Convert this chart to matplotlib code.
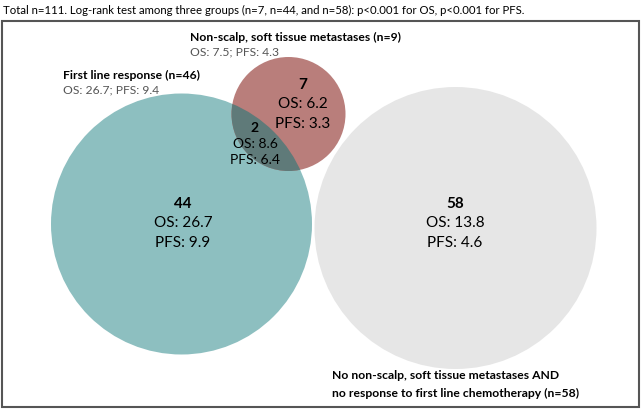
import matplotlib
matplotlib.use("Agg")
import matplotlib.pyplot as plt
from matplotlib.patches import Circle, Rectangle

# group sizes and survival (months)
groups = ["First line response", "Non-scalp, soft tissue metastases", "Neither"]
group_n = [46, 9, 58]
group_os = [26.7, 7.5, None]
group_pfs = [9.4, 4.3, None]

# region values: teal only, red only, overlap, gray
region_n = [44, 7, 2, 58]
region_os = [26.7, 6.2, 8.6, 13.8]
region_pfs = [9.9, 3.3, 6.4, 4.6]

title = ("Total n=111. Log-rank test among three groups (n=7, n=44, and n=58): "
         "p<0.001 for OS, p<0.001 for PFS.")

# circle geometry in pixel units (x, y, r)
teal_c = (181.5, 225, 130.5)
red_c = (288.5, 115, 57)
gray_c = (455.5, 229, 141)

teal_col = "#8dbfc0"
red_col = "#b97e7b"
overlap_col = "#5f7a79"
gray_col = "#e6e6e6"

plt.rcParams['font.family'] = ['Lato', 'DejaVu Sans']

fig = plt.figure(figsize=(6.41, 4.10), dpi=100)
ax = fig.add_axes([0, 0, 1, 1])
ax.set_xlim(0, 641)
ax.set_ylim(410, 0)
ax.set_aspect('equal')
ax.axis('off')

# frame
ax.add_patch(Rectangle((2, 22), 637, 386, fill=False, edgecolor="#555555", lw=1.5))

gray = Circle(gray_c[:2], gray_c[2], color=gray_col, lw=0)
teal = Circle(teal_c[:2], teal_c[2], color=teal_col, lw=0)
red = Circle(red_c[:2], red_c[2], color=red_col, lw=0)
for p in (gray, teal, red):
    ax.add_patch(p)
ov = Circle(red_c[:2], red_c[2], color=overlap_col, lw=0)
ax.add_patch(ov)
ov.set_clip_path(teal)

ax.text(3, 10, title, fontsize=8.2, va='center', ha='left')

# group labels
lab = 8.7
ax.text(63, 75, f"{groups[0]} (n={group_n[0]})", fontsize=lab, weight='bold', va='center')
ax.text(63, 90, f"OS: {group_os[0]}; PFS: {group_pfs[0]}", fontsize=lab, color="#555555", va='center')
ax.text(190, 37, f"{groups[1]} (n={group_n[1]})", fontsize=lab, weight='bold', va='center')
ax.text(190, 52, f"OS: {group_os[1]}; PFS: {group_pfs[1]}", fontsize=lab, color="#555555", va='center')
ax.text(332, 376, "No non-scalp, soft tissue metastases AND", fontsize=lab, weight='bold', va='center')
ax.text(332, 393, f"no response to first line chemotherapy (n={group_n[2]})", fontsize=lab,
        weight='bold', va='center')

# region labels
pos = [(183, 204), (303, 85), (255, 128), (455, 204)]
for (x, y), n, o, p in zip(pos, region_n, region_os, region_pfs):
    big = n > 5
    step = 19.5 if big else 16
    size = 11 if big else 10
    ax.text(x, y, str(n), fontsize=size, weight='bold', ha='center', va='center')
    ax.text(x, y + step, f"OS: {o}", fontsize=size, ha='center', va='center')
    ax.text(x, y + 2 * step, f"PFS: {p}", fontsize=size, ha='center', va='center')

fig.savefig("out.png", dpi=100)
